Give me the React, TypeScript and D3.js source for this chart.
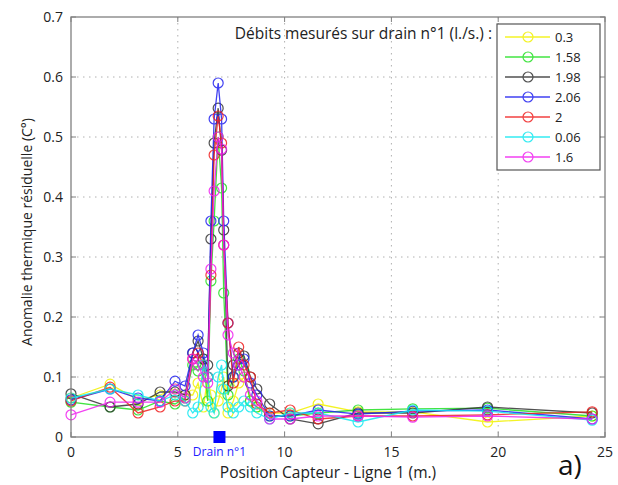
// Thermal anomaly along sensor line 1, one series per measured drain flow
import React from 'react';
import * as d3 from 'd3';

const positions = [0, 1.83, 3.14, 4.17, 4.87, 5.34, 5.7, 5.95, 6.2, 6.4, 6.55, 6.7, 6.89, 7.05, 7.15, 7.35, 7.6, 7.85, 8.1, 8.4, 8.7, 9.3, 10.26, 11.57, 13.44, 16.0, 19.5, 24.4];

const flow03 = [0.065, 0.088, 0.062, 0.07, 0.08, 0.07, 0.07, 0.09, 0.05, 0.1, 0.07, 0.04, 0.06, 0.08, 0.1, 0.04, 0.06, 0.09, 0.1, 0.06, 0.05, 0.04, 0.04, 0.055, 0.042, 0.042, 0.025, 0.035];
const flow158 = [0.058, 0.05, 0.045, 0.06, 0.055, 0.065, 0.12, 0.11, 0.13, 0.06, 0.26, 0.36, 0.5, 0.415, 0.24, 0.07, 0.1, 0.13, 0.11, 0.06, 0.05, 0.035, 0.035, 0.04, 0.045, 0.047, 0.048, 0.035];
const flow198 = [0.072, 0.05, 0.055, 0.075, 0.075, 0.07, 0.14, 0.16, 0.13, 0.12, 0.33, 0.49, 0.548, 0.478, 0.345, 0.085, 0.12, 0.14, 0.135, 0.1, 0.08, 0.055, 0.03, 0.022, 0.04, 0.04, 0.05, 0.04];
const flow206 = [0.062, 0.08, 0.065, 0.06, 0.093, 0.085, 0.14, 0.17, 0.14, 0.1, 0.36, 0.53, 0.59, 0.53, 0.36, 0.19, 0.1, 0.12, 0.13, 0.09, 0.07, 0.035, 0.035, 0.045, 0.038, 0.043, 0.045, 0.03];
const flow2 = [0.06, 0.083, 0.04, 0.05, 0.06, 0.06, 0.13, 0.14, 0.12, 0.1, 0.27, 0.47, 0.535, 0.49, 0.32, 0.19, 0.09, 0.15, 0.12, 0.1, 0.055, 0.04, 0.045, 0.03, 0.035, 0.035, 0.037, 0.042];
const flow006 = [0.065, 0.08, 0.07, 0.06, 0.07, 0.06, 0.04, 0.05, 0.12, 0.1, 0.05, 0.04, 0.1, 0.12, 0.08, 0.05, 0.04, 0.05, 0.06, 0.05, 0.04, 0.03, 0.04, 0.04, 0.025, 0.045, 0.043, 0.028];
const flow16 = [0.037, 0.058, 0.058, 0.058, 0.08, 0.065, 0.13, 0.12, 0.1, 0.09, 0.28, 0.41, 0.5, 0.48, 0.32, 0.17, 0.14, 0.12, 0.1, 0.07, 0.06, 0.03, 0.03, 0.035, 0.035, 0.033, 0.035, 0.03];

const seriesLabels = ['0.3', '1.58', '1.98', '2.06', '2', '0.06', '1.6'];
const seriesValues = [flow03, flow158, flow198, flow206, flow2, flow006, flow16];
const seriesColors = ['#f2f200', '#22e022', '#333333', '#2020f0', '#f02020', '#10e8f0', '#f020f0'];

const xTicks = [0, 5, 10, 15, 20, 25];
const yTicks = [0, 0.1, 0.2, 0.3, 0.4, 0.5, 0.6, 0.7];
const drainPosition = 6.95;

const FONT = '"Open Sans", "Noto Sans", sans-serif';

export default function App() {
  const left = 71, right = 605, top = 17, bottom = 437;
  const x = d3.scaleLinear().domain([0, 25]).range([left, right]);
  const y = d3.scaleLinear().domain([0, 0.7]).range([bottom, top]);

  const line = d3.line<number>()
    .x((_, i) => x(positions[i]))
    .y(d => y(d));

  const legendLeft = 497, legendTop = 24;

  return (
    <svg width={618} height={485} style={{ position: 'absolute', left: 0, top: 0, background: '#fff' }}>
      {/* grid */}
      {xTicks.slice(1, -1).map(t => (
        <line key={'gx' + t} x1={x(t)} x2={x(t)} y1={top} y2={bottom}
          stroke="#b0b0b0" strokeDasharray="1.5,4.5" />
      ))}
      {yTicks.slice(1, -1).map(t => (
        <line key={'gy' + t} x1={left} x2={right} y1={y(t)} y2={y(t)}
          stroke="#b0b0b0" strokeDasharray="1.5,4.5" />
      ))}

      {/* series */}
      {seriesValues.map((vals, s) => (
        <g key={seriesLabels[s]} stroke={seriesColors[s]} fill="none" opacity={0.85}>
          <path d={line(vals) || ''} strokeWidth={1.3} />
          {vals.map((v, i) => (
            <circle key={i} cx={x(positions[i])} cy={y(v)} r={5} strokeWidth={1.2} />
          ))}
        </g>
      ))}

      {/* frame and ticks */}
      <rect x={left} y={top} width={right - left} height={bottom - top} fill="none" stroke="#808080" strokeWidth={1.3} />
      {xTicks.map(t => (
        <g key={'tx' + t}>
          <line x1={x(t)} x2={x(t)} y1={bottom} y2={bottom - 5} stroke="#808080" />
          <line x1={x(t)} x2={x(t)} y1={top} y2={top + 5} stroke="#808080" />
          <text x={x(t)} y={457} textAnchor="middle" fontFamily={FONT} fontSize={14} fill="#222">{t}</text>
        </g>
      ))}
      {yTicks.map(t => (
        <g key={'ty' + t}>
          <line x1={left} x2={left + 5} y1={y(t)} y2={y(t)} stroke="#808080" />
          <line x1={right} x2={right - 5} y1={y(t)} y2={y(t)} stroke="#808080" />
          <text x={63} y={y(t) + 5} textAnchor="end" fontFamily={FONT} fontSize={14} fill="#222">{t}</text>
        </g>
      ))}

      {/* drain marker */}
      <rect x={x(drainPosition) - 6} y={bottom - 6} width={12} height={12} fill="#0000ff" />
      <text x={x(drainPosition)} y={456} textAnchor="middle" fontFamily={FONT} fontSize={12} fill="#2020ff">Drain n°1</text>

      {/* axis titles */}
      <text x={328} y={478} textAnchor="middle" fontFamily={FONT} fontSize={15.5} fill="#222">Position Capteur - Ligne 1 (m.)</text>
      <text transform={`translate(32, 232) rotate(-90)`} textAnchor="middle"
        fontFamily={FONT} fontSize={14} fill="#222">Anomalie thermique résiduelle (C°)</text>
      <text x={558} y={475} fontFamily={FONT} fontSize={28} fill="#111">a)</text>

      {/* legend */}
      <text x={492} y={39} textAnchor="end" fontFamily={FONT} fontSize={15.5} fill="#222">Débits mesurés sur drain n°1 (l./s.) :</text>
      <rect x={legendLeft} y={legendTop} width={103} height={146} fill="#fff" stroke="#555" strokeWidth={1.2} />
      {seriesLabels.map((lab, s) => {
        const ly = 37 + s * 20;
        return (
          <g key={'lg' + lab}>
            <g stroke={seriesColors[s]} fill="none" opacity={0.85}>
              <line x1={505} x2={550} y1={ly} y2={ly} strokeWidth={1.3} />
              <circle cx={528} cy={ly} r={5} strokeWidth={1.2} />
            </g>
            <text x={555} y={ly + 5} fontFamily={FONT} fontSize={13} fill="#222">{lab}</text>
          </g>
        );
      })}
    </svg>
  );
}
